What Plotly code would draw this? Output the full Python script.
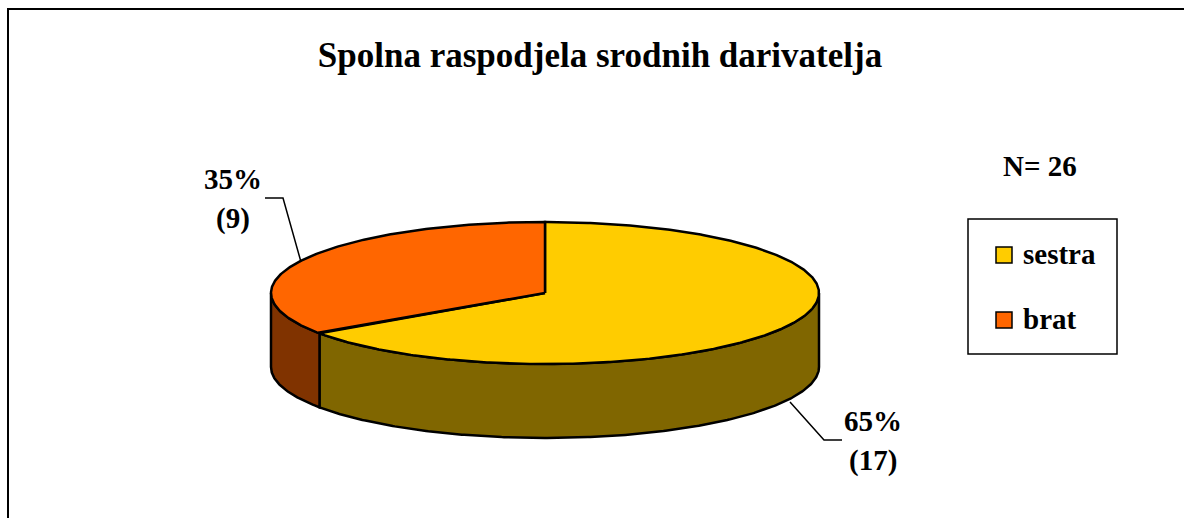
"""Spolna raspodjela srodnih darivatelja - 3D pie drawn on a pixel-sized axis."""

import numpy as np
import plotly.graph_objects as go

categories = ["sestra", "brat"]
counts = [17, 9]
pct_labels = ["65%", "35%"]
total_label = "N= 26"
title = "Spolna raspodjela srodnih darivatelja"

top_colors = ["#FFCC00", "#FF6600"]
wall_colors = ["#806600", "#803300"]

FONT = "Liberation Serif"
W, H = 1184, 518
CX, CY, RX, RY, DEPTH = 545, 293, 274, 71, 74


def rim(a0, a1, drop=0):
    """Punkte auf der Ellipse, Winkel im Uhrzeigersinn ab oben (Grad)."""
    t = np.radians(np.linspace(a0, a1, max(int(abs(a1 - a0)) * 2, 2)))
    return CX + RX * np.sin(t), CY - RY * np.cos(t) + drop


def poly(fig, x, y, color):
    fig.add_trace(go.Scatter(
        x=x, y=y, mode="lines", fill="toself", fillcolor=color,
        line=dict(color="black", width=2.5), hoverinfo="skip", showlegend=False,
    ))


fig = go.Figure()

# Winkel aus den Werten
edges = np.concatenate([[0], np.cumsum(counts)]) / sum(counts) * 360

# Seitenwand, nur die vordere Haelfte (90-270 Grad) ist sichtbar
for i in range(len(counts)):
    a0, a1 = max(edges[i], 90), min(edges[i + 1], 270)
    if a1 > a0:
        xt, yt = rim(a0, a1)
        xb, yb = rim(a0, a1, DEPTH)
        poly(fig, np.r_[xt, xb[::-1], xt[0]], np.r_[yt, yb[::-1], yt[0]], wall_colors[i])

# Deckel
for i in range(len(counts)):
    xt, yt = rim(edges[i], edges[i + 1])
    poly(fig, np.r_[CX, xt, CX], np.r_[CY, yt, CY], top_colors[i])

# Legende
legend_y = [255, 320]
for i, cat in enumerate(categories):
    fig.add_trace(go.Scatter(
        x=[1004], y=[legend_y[i]], mode="markers",
        marker=dict(symbol="square", size=16, color=top_colors[i], line=dict(color="black", width=1.5)),
        hoverinfo="skip", showlegend=False,
    ))
    fig.add_annotation(x=1021, y=legend_y[i] - 1, text=f"<b>{cat}</b>", xanchor="left", yanchor="middle",
                       showarrow=False, font=dict(size=29, color="black", family=FONT))

# Datenbeschriftung
labels = [(873, 421, pct_labels[0]), (873, 460, f"({counts[0]})"),
          (233, 179, pct_labels[1]), (233, 218, f"({counts[1]})"),
          (1040, 166, total_label)]
for x, y, txt in labels:
    fig.add_annotation(x=x, y=y, text=f"<b>{txt}</b>", xanchor="center", yanchor="middle",
                       showarrow=False, font=dict(size=29, color="black", family=FONT))

line = dict(color="black", width=1.5)
# Rahmen laeuft rechts und unten aus dem Bild
fig.add_shape(type="rect", x0=8, y0=9, x1=1220, y1=540, line=dict(color="black", width=2))
fig.add_shape(type="rect", x0=968, y0=219, x1=1117, y1=354, line=dict(color="black", width=1.5))
fig.add_shape(type="path", path="M 265 198 L 283 198 L 301 262", line=line)
fig.add_shape(type="path", path="M 790 402 L 824 440 L 842 440", line=line)

fig.update_layout(
    width=W, height=H,
    margin=dict(l=0, r=0, t=0, b=0),
    paper_bgcolor="white", plot_bgcolor="white",
    title=dict(text=f"<b>{title}</b>", x=600 / W, y=1 - 55 / H, xanchor="center", yanchor="middle",
               font=dict(size=35, color="black", family=FONT)),
    xaxis=dict(range=[0, W], visible=False, fixedrange=True),
    yaxis=dict(range=[H, 0], visible=False, fixedrange=True),
    showlegend=False,
)

fig.write_html("out.html", config=dict(displayModeBar=False),
               post_script="document.body.style.margin='0';document.body.style.overflow='hidden';")
